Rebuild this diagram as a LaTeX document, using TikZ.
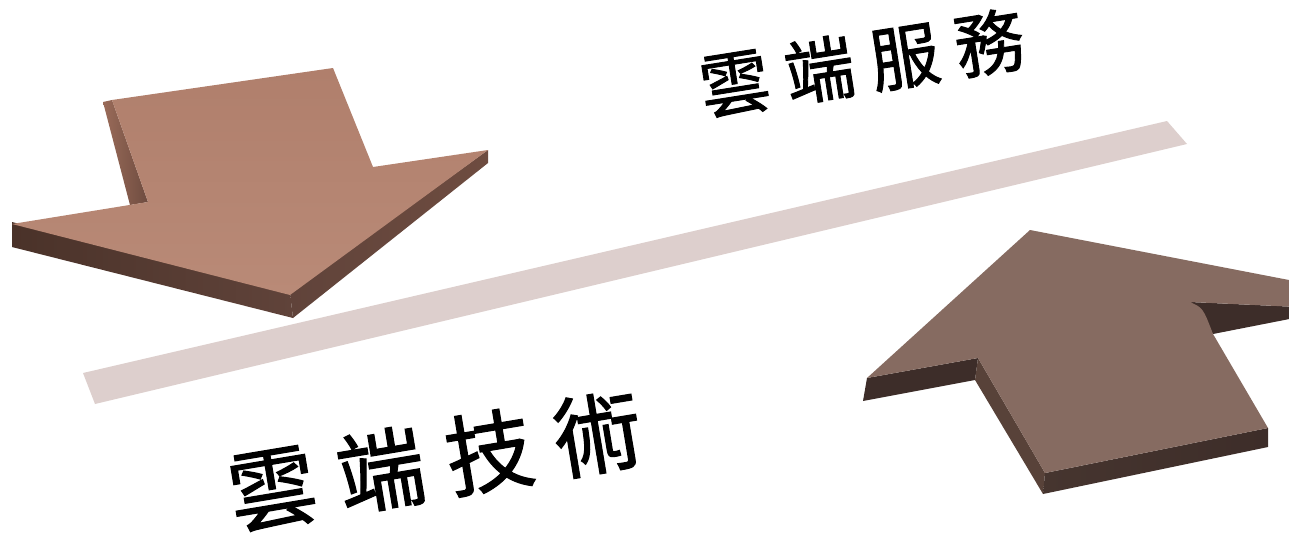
\documentclass[tikz,border=0pt]{standalone}
\usepackage{fontspec}
\newfontfamily\cjk{Noto Sans CJK TC}[FakeBold=1.3]
\definecolor{barc}{HTML}{DDCFCD}
\definecolor{latop}{HTML}{B07F6C}
\definecolor{lalight}{HTML}{B98A77}
\definecolor{laside}{HTML}{9A6B59}
\definecolor{ladarkA}{HTML}{4A3229}
\definecolor{ladarkB}{HTML}{60433A}
\definecolor{ladarkC}{HTML}{6E4C40}
\definecolor{ratop}{HTML}{866B61}
\definecolor{radark}{HTML}{3D2D29}
\definecolor{raside}{HTML}{584239}
\definecolor{rabot}{HTML}{46352F}
\tikzset{
  lbl/.style={text=black, inner sep=0pt},
}
\begin{document}
\begin{tikzpicture}[x=1pt,y=-1pt]
\useasboundingbox (0,0) rectangle (1289,543);
\clip (0,0) rectangle (1289,543);
% diagonal bar
\fill[barc] (83,373) -- (1167,121) -- (1187,144) -- (95,404) -- cycle;
% ---- left (down) arrow ----
\shade[left color=laside, right color=ladarkC] (103,102) -- (112,100) -- (148,202) -- (130,205) -- cycle;
\shade[left color=ladarkA, right color=ladarkB] (12,222) -- (290,293) -- (293,318) -- (12,247) -- cycle;
\shade[left color=ladarkB, right color=ladarkC] (290,293) -- (488,150) -- (488,163) -- (293,318) -- cycle;
\shade[top color=latop, bottom color=lalight] (112,100) -- (333,68) -- (373,167) -- (488,150) -- (290,295) -- (12,224) -- (148,202) -- cycle;
% ---- right (up) arrow ----
\fill[radark] (867,378) -- (978,358) -- (975,380) -- (863,401) -- cycle;
\fill[raside] (978,358) -- (1045,473) -- (1043,494) -- (975,380) -- cycle;
\shade[left color=rabot, right color=radark] (1045,473) -- (1268,428) -- (1268,447) -- (1043,494) -- cycle;
\fill[radark] (1190,302) -- (1320,308) -- (1320,313) -- (1213,334) -- cycle;
\fill[ratop] (1030,230) -- (1320,286) -- (1320,308) -- (1190,302) .. controls (1203,308) .. (1213,334) -- (1268,428) -- (1045,473) -- (978,358) -- (867,378) -- cycle;
% ---- labels ----
\node[lbl, font=\cjk\fontsize{70}{70}\selectfont, rotate=9] (top) at (862,63) {雲\kern16pt 端\kern16pt 服\kern16pt 務};
\node[lbl, font=\cjk\fontsize{88}{88}\selectfont, rotate=9.5] (bot) at (435,461) {雲\kern22pt 端\kern22pt 技\kern22pt 術};
\end{tikzpicture}
\end{document}
